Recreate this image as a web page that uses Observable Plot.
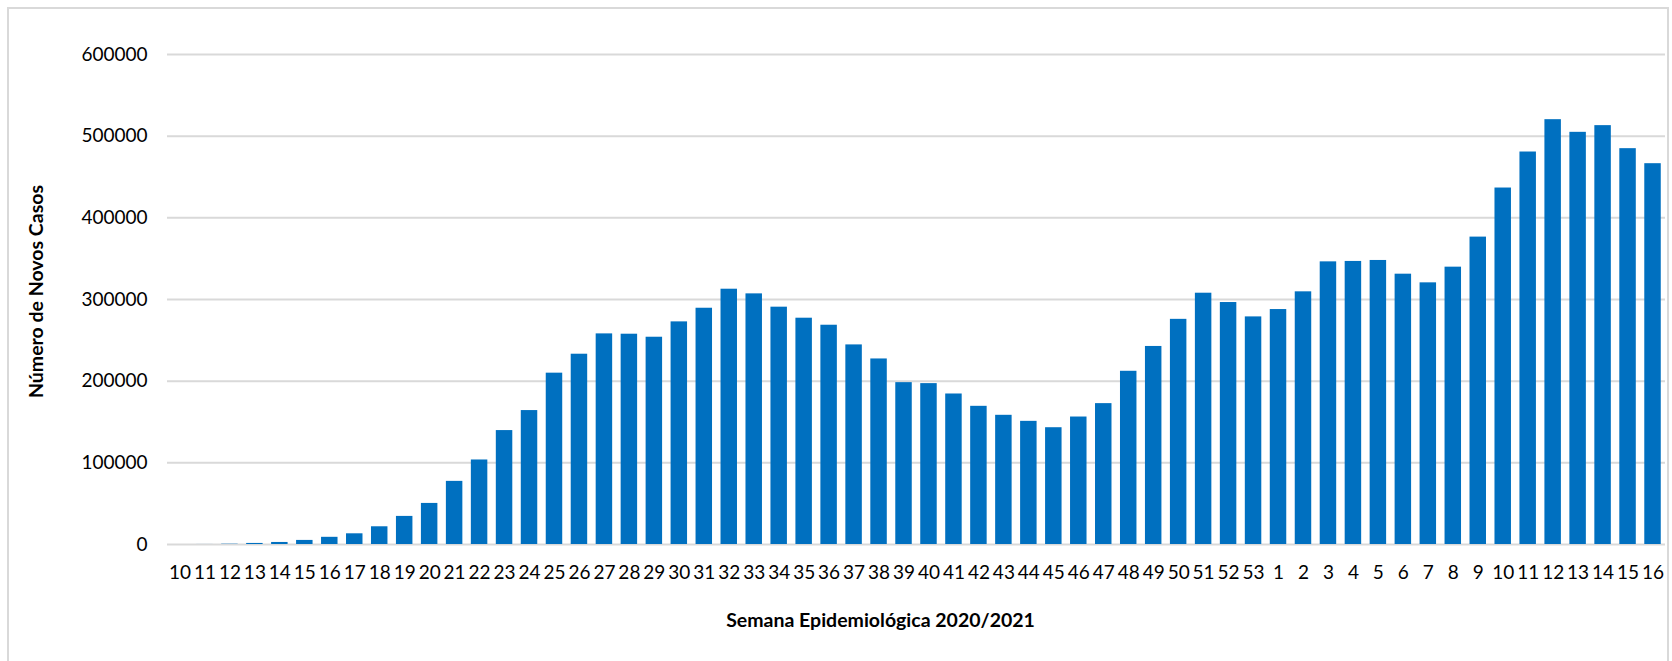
<!DOCTYPE html>
<html>
<head>
<meta charset="utf-8">
<script src="https://cdn.jsdelivr.net/npm/d3@7"></script>
<script src="https://cdn.jsdelivr.net/npm/@observablehq/plot@0.6"></script>
<style>
  body { margin: 0; background: #fff; }
  #wrap { position: relative; width: 1672px; height: 661px; overflow: hidden; }
  #frame { position: absolute; left: 7px; top: 7px; width: 1662px; height: 720px; border: 2px solid #d9d9d9; box-sizing: border-box; }
  #chart { position: absolute; left: 0; top: 0; }
</style>
</head>
<body>
<div id="wrap"><div id="frame"></div><div id="chart"></div></div>
<script>
const weeks2020 = [10,11,12,13,14,15,16,17,18,19,20,21,22,23,24,25,26,27,28,29,30,31,32,33,34,35,36,37,38,39,40,41,42,43,44,45,46,47,48,49,50,51,52,53];
const cases2020 = [0,50,350,1300,2500,5000,8800,13100,21700,34400,50300,77300,103500,139500,164000,209800,233000,257900,257500,253800,272600,289300,312600,306900,290600,277100,268500,244400,227200,198200,197000,184300,169200,158200,150800,143000,156100,172500,212100,242500,275700,307700,296300,278700];
const weeks2021 = [1,2,3,4,5,6,7,8,9,10,11,12,13,14,15,16];
const cases2021 = [287700,309400,346100,346600,347800,331000,320400,339600,376400,436500,480600,520200,504700,512900,484700,466300];
const yTicks = [0,100000,200000,300000,400000,500000,600000];
const xTitle = "Semana Epidemiológica 2020/2021";
const yTitle = "Número de Novos Casos";

const data = [
  ...weeks2020.map((w, i) => ({key: `2020-${w}`, cases: cases2020[i]})),
  ...weeks2021.map((w, i) => ({key: `2021-${w}`, cases: cases2021[i]}))
];
const weekLabel = k => k.split("-")[1];

const chart = Plot.plot({
  width: 1672,
  height: 661,
  marginLeft: 167,
  marginRight: 7,
  marginTop: 54,
  marginBottom: 117,
  style: {fontFamily: "Lato", fontSize: "19px", color: "#000", background: "transparent"},
  x: {domain: data.map(d => d.key), paddingInner: 0.34, paddingOuter: 0.17, label: null},
  y: {domain: [0, 600000], label: null},
  marks: [
    Plot.gridY(yTicks, {stroke: "#d9d9d9", strokeOpacity: 1, strokeWidth: 2}),
    Plot.barY(data, {x: "key", y: "cases", fill: "#0070C0"}),
    Plot.axisX({tickSize: 0, tickPadding: 21, tickFormat: weekLabel, label: null, fontSize: 19}),
    Plot.axisY(yTicks, {tickSize: 0, tickPadding: 20, tickFormat: d => String(d), label: null, fontSize: 19}),
    Plot.text([xTitle], {text: d => d, frameAnchor: "bottom", textAnchor: "middle", dx: -36, dy: 82, fontWeight: "bold", fontSize: 19.5, fill: "#000"}),
    Plot.text([yTitle], {text: d => d, frameAnchor: "left", textAnchor: "middle", dx: -131, dy: -8, rotate: -90, fontWeight: "bold", fontSize: 19.5, fill: "#000"})
  ]
});
document.getElementById("chart").append(chart);
</script>
</body>
</html>
